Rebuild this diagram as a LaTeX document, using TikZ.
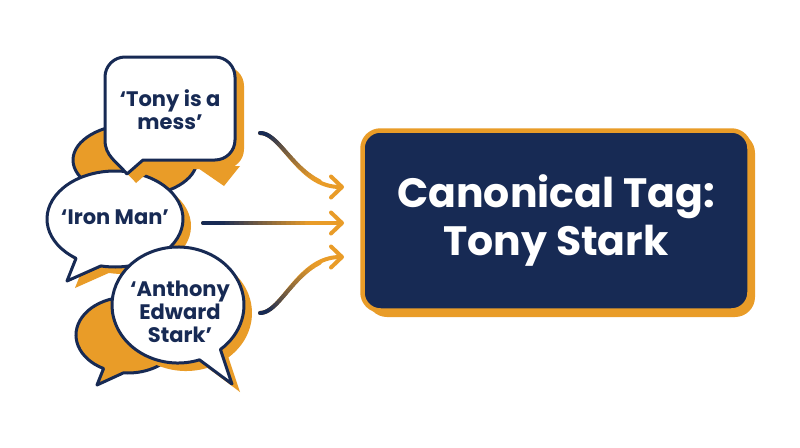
\documentclass[tikz,border=0pt]{standalone}
\usepackage{fontspec}
\setmainfont{Poppins}
\usetikzlibrary{arrows.meta,calc}
\definecolor{navy}{RGB}{23,42,84}
\definecolor{borange}{RGB}{233,156,40}
\begin{document}
\begin{tikzpicture}[x=1pt,y=-1pt,line join=round,
  outl/.style={draw=navy,line width=3pt},
  shad/.style={fill=borange},
  btxt/.style={text=navy,font=\bfseries\fontsize{21}{23}\selectfont,align=center,inner sep=0pt},
  box/.style={fill=navy,draw=borange,line width=4.5pt,rounded corners=18pt,minimum width=387pt,minimum height=180pt,text=white,font=\bfseries\fontsize{41}{48}\selectfont,align=center,inner sep=0pt},
  arr/.style={draw=borange,line width=4pt,line cap=round,-{Straight Barb[length=11pt,width=21pt,round]}},
  seg/.style={line width=4pt,line cap=round}]
\useasboundingbox (0,0) rectangle (800,447);
\fill[white] (0,0) rectangle (800,447);

\def\topbub{(143,160) -- (215,160) arc[start angle=90,end angle=0,radius=20] -- (235,77) arc[start angle=0,end angle=-90,radius=20] -- (125,57) arc[start angle=-90,end angle=-180,radius=20] -- (105,140) .. controls (105,156) and (116,161) .. (127,174) -- cycle}
\def\midbub{(76,258.32) arc[start angle=125,end angle=462,x radius=68,y radius=48] -- (67,281) -- cycle}
\def\botbub{(199.49,359.84) arc[start angle=71,end angle=410,x radius=66,y radius=58] -- (232,384) -- cycle}
\def\backtwo{(103.59,368.55) arc[start angle=118,end angle=455,x radius=52,y radius=38] -- (97,385) -- cycle}

% back bubble 1
\draw[outl,fill=borange] (135,160) ellipse [x radius=62,y radius=36];
% middle bubble
\fill[shad,shift={(8,7)}] \midbub;
\draw[outl,fill=white] \midbub;
% top bubble
\fill[shad,shift={(9,9)}] \topbub;
\fill[shad] (195,166) -- (224,186) -- (240,166) -- cycle;
\draw[outl,fill=white] \topbub;
% back bubble 2
\draw[outl,fill=borange] \backtwo;
% bottom bubble
\fill[shad,shift={(8,8)}] \botbub;
\draw[outl,fill=white] \botbub;

\node[btxt] (t1) at (170,110) {‘Tony is a\\mess’};
\node[btxt] (t2) at (115,217) {‘Iron Man’};
\node[btxt] (t3) at (180,312) {‘Anthony\\Edward\\Stark’};

% canonical box
\fill[borange,rounded corners=20pt] (367,133) rectangle (755,317);
\node[box] (canon) at (556,220.5) {Canonical Tag:\\Tony Stark};

% arrows
\coordinate (s1) at (260,133); \coordinate (e1) at (344,187);
\coordinate (s2) at (203,223); \coordinate (e2) at (344,223);
\coordinate (s3) at (260,313); \coordinate (e3) at (344,257);
\draw[arr] (s1) .. controls (282,133) and (298,187) .. (e1);
\draw[arr] (s2) -- (e2);
\draw[arr] (s3) .. controls (282,313) and (298,257) .. (e3);

\path (s1) .. controls (282,133) and (298,187) .. (e1)
  foreach \k [evaluate=\k as \pp using \k/30] in {0,...,30} {coordinate[pos=\pp] (ga\k)};
\path (s2) -- (e2)
  foreach \k [evaluate=\k as \pp using \k/30] in {0,...,30} {coordinate[pos=\pp] (gb\k)};
\path (s3) .. controls (282,313) and (298,257) .. (e3)
  foreach \k [evaluate=\k as \pp using \k/30] in {0,...,30} {coordinate[pos=\pp] (gc\k)};
\foreach \k [evaluate=\k as \j using int(\k-1), evaluate=\k as \c using {int(max(0,min(100,125-160*\k/30)))}] in {1,...,24} {
  \draw[seg,navy!\c!borange] (ga\j) -- (ga\k);
  \draw[seg,navy!\c!borange] (gb\j) -- (gb\k);
  \draw[seg,navy!\c!borange] (gc\j) -- (gc\k);
}
\end{tikzpicture}
\end{document}
